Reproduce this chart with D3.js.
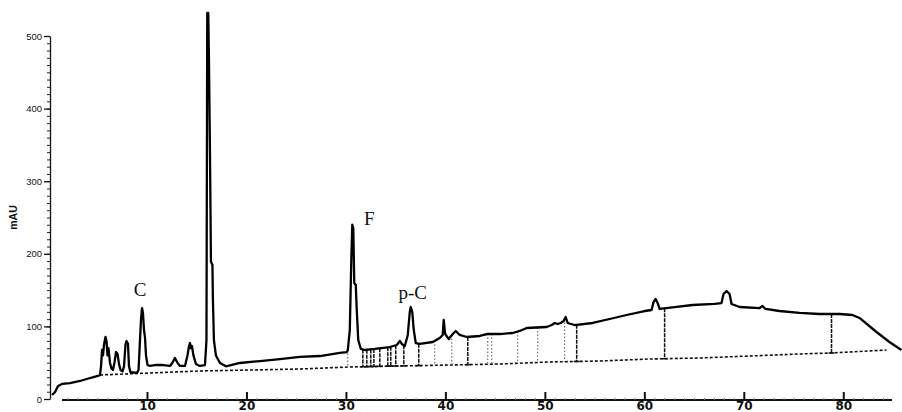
<!DOCTYPE html>
<html>
<head>
<meta charset="utf-8">
<script src="https://cdn.jsdelivr.net/npm/d3@7"></script>
<style>
  html, body { margin: 0; padding: 0; background: #fff; }
  svg { display: block; }
</style>
</head>
<body>
<svg id="chart" width="902" height="412"></svg>
<script>
// HPLC chromatogram: absorbance (mAU) vs retention time (min)

const retentionTime = [
  0.46, 0.76, 1.06, 1.46, 2.26, 3.27, 4.27, 5.07, 5.28, 5.38, 5.48, 5.58, 5.68, 5.83, 5.93, 6.03,
  6.13, 6.28, 6.43, 6.58, 6.73, 6.89, 7.04, 7.19, 7.34, 7.54, 7.69, 7.84, 7.94, 8.09, 8.19, 8.34,
  8.64, 8.99, 9.15, 9.25, 9.40, 9.50, 9.60, 9.70, 9.80, 9.90, 10.05, 10.30, 10.80, 11.61, 12.31, 12.56,
  12.81, 13.06, 13.32, 13.82, 14.07, 14.22, 14.32, 14.42, 14.52, 14.67, 14.92, 15.32, 15.83, 15.98,
  16.06, 16.16, 16.23, 16.33, 16.43, 16.58, 16.63, 16.73, 16.93, 17.34, 17.94, 19.34, 21.35, 23.36,
  25.37, 27.38, 29.39, 30.09, 30.19, 30.39, 30.54, 30.64, 30.74, 30.84, 30.99, 31.09, 31.24, 31.50,
  31.90, 32.90, 34.41, 35.11, 35.42, 35.62, 35.92, 36.22, 36.42, 36.52, 36.67, 36.82, 37.02, 37.42,
  38.73, 39.43, 39.73, 39.83, 39.98, 40.34, 40.74, 41.04, 41.44, 42.15, 43.45, 44.16, 45.46, 46.77,
  47.47, 48.17, 50.18, 50.69, 50.99, 51.29, 51.59, 51.89, 52.09, 52.29, 52.99, 54.81, 56.51, 58.22,
  60.03, 60.73, 60.93, 61.13, 61.34, 61.54, 63.04, 64.85, 67.06, 67.76, 67.96, 68.27, 68.57, 68.77,
  69.57, 71.58, 71.88, 72.18, 73.59, 75.60, 77.61, 79.62, 80.93, 81.63, 83.34, 84.64, 85.85
];

const absorbance = [
  5.5, 9.6, 17.9, 20.7, 22.0, 24.8, 28.9, 31.7, 33.1, 45, 67.5, 60, 75, 85.4, 80, 60,
  70, 50, 42, 40, 50, 64.7, 62, 48, 40, 38, 45, 75, 79.9, 76, 45, 37,
  36.5, 36, 40, 67.5, 110, 125.3, 118, 95, 85, 60, 47, 45.5, 46.8, 46.8, 45.5, 50,
  56.5, 50, 45.5, 45.5, 60, 72, 77.1, 70, 73, 60, 48.2, 45.5, 46.8, 81,
  531.7, 531.7, 467, 343, 189, 185, 136, 81, 60, 49.6, 45, 49.6, 52.3, 55,
  57.9, 59.2, 63.4, 64.7, 67.5, 95, 191, 240, 235.5, 159.8, 157, 122.6, 81.3, 68.9,
  67.5, 68.9, 71.6, 74.4, 79.9, 75.8, 73, 88.2, 119.8, 126.7, 119.8, 95, 77.1, 75.8,
  78.5, 84, 88.2, 108.8, 89.5, 82.6, 89.5, 93.7, 88.2, 85.4, 86.8, 89.5, 89.5, 90.9,
  93.7, 97.8, 99.2, 101.9, 104.7, 103.3, 104.7, 107.4, 112.9, 104.7, 101.9, 104.7, 110.2, 115.7,
  121.2, 122.6, 133.6, 137.7, 132.2, 124, 126.7, 129.5, 130.9, 132.2, 144.6, 148.8, 144.6, 130.9,
  126.7, 125.3, 128.1, 124, 121.2, 118.5, 117.1, 117.1, 115.7, 111.6, 92.3, 78.5, 67.5
];

// integration baseline
const baselineTime = [5.28, 10.30, 15.32, 20.35, 25.37, 30.39, 35.42, 40.44, 45.46, 50.48, 55.51, 60.53, 65.55, 70.58, 75.60, 78.82, 84.34];
const baselineAbs  = [33.1, 35.8, 38.6, 39.9, 41.3, 44.1, 45.5, 46.8, 48.2, 51.0, 52.3, 55.1, 56.5, 59.2, 62.0, 63.4, 67.5];

// peak-boundary drop lines
const dropTimes = [30.19, 31.70, 32.10, 32.50, 32.81, 33.41, 34.21, 34.51, 35.01, 35.82, 37.32, 38.93, 40.64, 42.25, 44.26, 44.66, 47.27, 49.28, 51.99, 53.20, 62.04, 78.82];
const dropKind  = ["minor", "major", "major", "major", "major", "major", "major", "major", "major", "major", "major", "minor", "minor", "major", "minor", "minor", "minor", "minor", "minor", "major", "major", "major"];

// identified peaks
const peakNames = ["C", "F", "p-C"];
const peakTimes = [9.50, 30.64, 36.52];
const peakAbs   = [125.3, 240, 126.7];

const xTicks = [10, 20, 30, 40, 50, 60, 70, 80];
const yTicks = [0, 100, 200, 300, 400, 500];
const yMinorTicks = d3.range(0, 501, 10);
const yLabel = "mAU";

const svg = d3.select("#chart");
svg.append("rect").attr("width", 902).attr("height", 412).attr("fill", "#fff");

const x = d3.scaleLinear().domain([0.25, 85]).range([50, 893]);
const y = d3.scaleLinear().domain([0, 500]).range([399, 36]);

const trace = retentionTime.map((t, i) => ({ t, v: absorbance[i] }));
const base = baselineTime.map((t, i) => ({ t, v: baselineAbs[i] }));

function interp(tArr, vArr, t) {
  const i = d3.bisectLeft(tArr, t);
  if (i <= 0) return vArr[0];
  if (i >= tArr.length) return vArr[vArr.length - 1];
  const t0 = tArr[i - 1], t1 = tArr[i];
  const f = (t - t0) / (t1 - t0);
  return vArr[i - 1] + f * (vArr[i] - vArr[i - 1]);
}

// y axis with minor ticks
const yMinor = svg.append("g").attr("transform", "translate(50,0)")
  .call(d3.axisLeft(y).tickValues(yMinorTicks).tickSize(3).tickFormat(""));
yMinor.select(".domain").remove();
yMinor.selectAll("line").attr("stroke", "#222").attr("stroke-width", 1);

const yAxis = svg.append("g").attr("transform", "translate(50,0)")
  .call(d3.axisLeft(y).tickValues(yTicks).tickSize(6).tickPadding(2).tickSizeOuter(0));
yAxis.select(".domain").attr("stroke", "#111").attr("stroke-width", 1.3);
yAxis.selectAll("line").attr("stroke", "#111").attr("stroke-width", 1.3);
yAxis.selectAll("text")
  .attr("font-family", "Liberation Sans, Arial, sans-serif")
  .attr("font-size", 9.5)
  .attr("fill", "#111");

svg.append("text")
  .attr("transform", `translate(17,${y(250)}) rotate(-90)`)
  .attr("text-anchor", "middle")
  .attr("font-family", "Liberation Sans, Arial, sans-serif")
  .attr("font-weight", "bold")
  .attr("font-size", 10.5)
  .attr("fill", "#111")
  .text(yLabel);

// x axis
svg.append("line")
  .attr("x1", 62).attr("x2", 892).attr("y1", y(0) + 1).attr("y2", y(0) + 1)
  .attr("stroke", "#111").attr("stroke-width", 2);

const xMinor = svg.append("g").attr("transform", `translate(0,${y(0) + 1})`)
  .call(d3.axisBottom(x).tickValues(d3.range(2, 85, 1)).tickSize(-2).tickFormat(""));
xMinor.select(".domain").remove();
xMinor.selectAll("line").attr("stroke", "#777").attr("stroke-width", 1);

const xAxis = svg.append("g").attr("transform", `translate(0,${y(0) + 1})`)
  .call(d3.axisBottom(x).tickValues(xTicks).tickSize(-8).tickPadding(1));
xAxis.select(".domain").remove();
xAxis.selectAll("line").attr("stroke", "#111").attr("stroke-width", 2);
xAxis.selectAll("text")
  .attr("font-family", "DejaVu Sans, sans-serif")
  .attr("font-weight", "bold")
  .attr("font-size", 12)
  .attr("fill", "#111");

// baseline (dashed)
svg.append("path")
  .datum(base)
  .attr("fill", "none")
  .attr("stroke", "#111")
  .attr("stroke-width", 1.6)
  .attr("stroke-dasharray", "3,2")
  .attr("d", d3.line().x(d => x(d.t)).y(d => y(d.v)));

// drop lines
const drops = dropTimes.map((t, i) => ({
  t,
  kind: dropKind[i],
  top: interp(retentionTime, absorbance, t),
  bottom: interp(baselineTime, baselineAbs, t)
}));

svg.append("g").selectAll("line")
  .data(drops)
  .join("line")
  .attr("x1", d => x(d.t)).attr("x2", d => x(d.t))
  .attr("y1", d => y(d.top)).attr("y2", d => y(d.bottom))
  .attr("stroke", d => d.kind === "major" ? "#111" : "#555")
  .attr("stroke-width", d => d.kind === "major" ? 1.5 : 1)
  .attr("stroke-dasharray", d => d.kind === "major" ? "4,1" : "1.5,2");

svg.append("g").selectAll("line")
  .data(drops.filter(d => d.kind === "major"))
  .join("line")
  .attr("x1", d => x(d.t) - 3).attr("x2", d => x(d.t) + 3)
  .attr("y1", d => y(d.bottom)).attr("y2", d => y(d.bottom))
  .attr("stroke", "#111")
  .attr("stroke-width", 1.5);

// chromatogram trace
svg.append("path")
  .datum(trace)
  .attr("fill", "none")
  .attr("stroke", "#000")
  .attr("stroke-width", 2.3)
  .attr("stroke-linejoin", "round")
  .attr("d", d3.line().x(d => x(d.t)).y(d => y(d.v)));

// peak labels
const labelOffsets = [[-2, -12], [17, 0], [2, -8]];
svg.append("g").selectAll("text")
  .data(peakNames)
  .join("text")
  .attr("x", (d, i) => x(peakTimes[i]) + labelOffsets[i][0])
  .attr("y", (d, i) => y(peakAbs[i]) + labelOffsets[i][1])
  .attr("text-anchor", "middle")
  .attr("font-family", "Liberation Serif, Times New Roman, serif")
  .attr("font-size", 19)
  .attr("fill", "#111")
  .text(d => d);
</script>
</body>
</html>
